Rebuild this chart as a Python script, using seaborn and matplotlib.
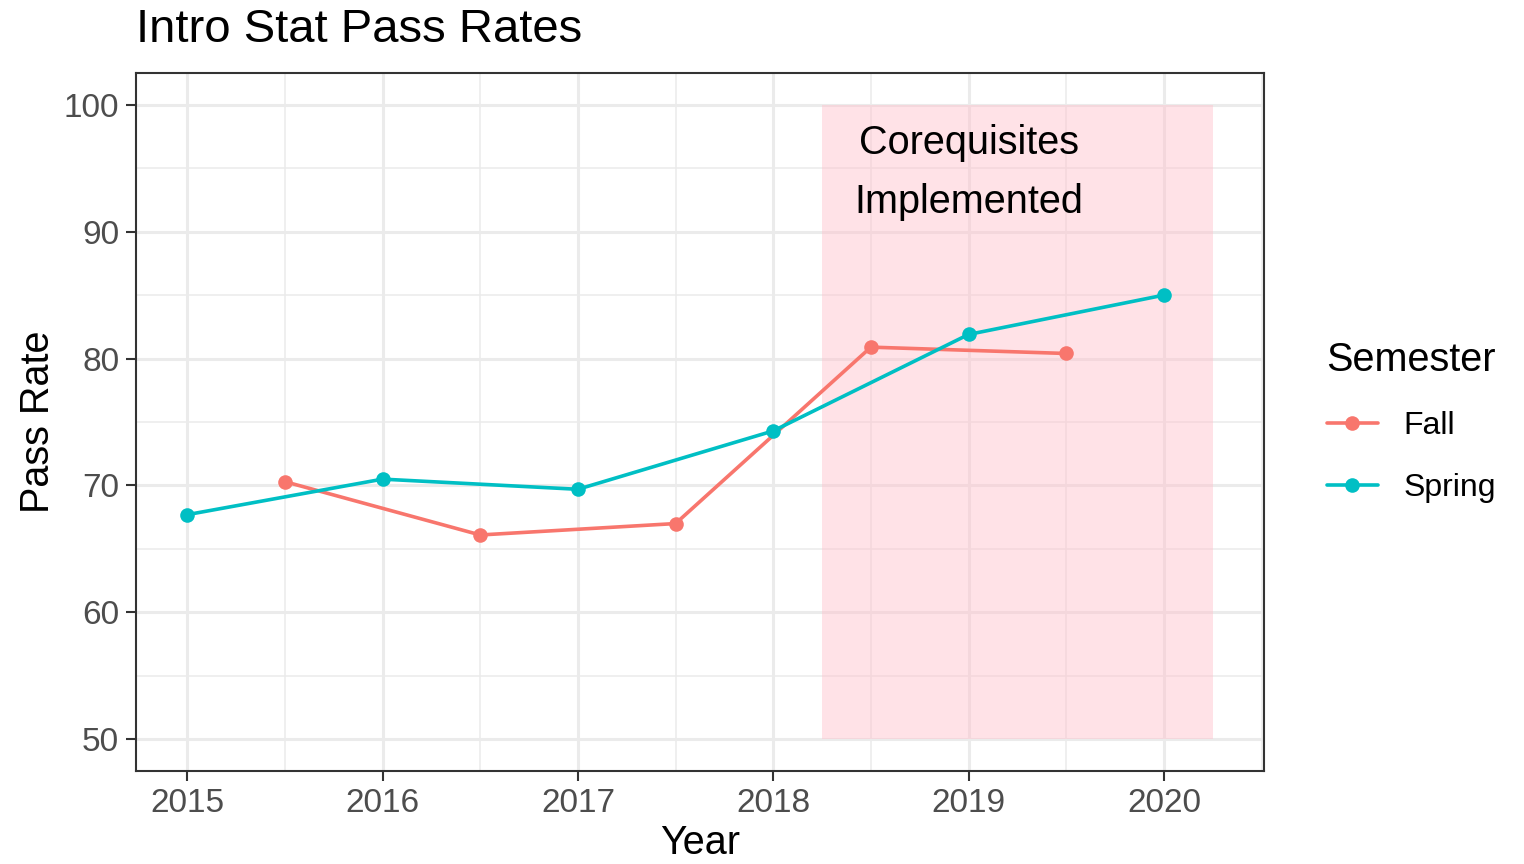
import matplotlib
matplotlib.use("Agg")
import matplotlib.pyplot as plt
import seaborn as sns
import pandas as pd
from matplotlib.ticker import MultipleLocator

# data
spring_years = [2015, 2016, 2017, 2018, 2019, 2020]
spring_rates = [67.7, 70.5, 69.7, 74.3, 81.9, 85.0]
fall_years = [2015.5, 2016.5, 2017.5, 2018.5, 2019.5]
fall_rates = [70.3, 66.1, 67.0, 80.9, 80.4]
shade_x = [2018.25, 2020.25]
shade_y = [50, 100]

df = pd.DataFrame({
    "Year": fall_years + spring_years,
    "Pass Rate": fall_rates + spring_rates,
    "Semester": ["Fall"] * len(fall_years) + ["Spring"] * len(spring_years),
})

sns.set_style("white")
plt.rcParams["font.family"] = ["Liberation Sans", "DejaVu Sans"]
plt.rcParams["text.color"] = "black"
plt.rcParams["axes.labelcolor"] = "black"

fig = plt.figure(figsize=(15.24, 8.64), dpi=100)
ax = fig.add_axes([0.0892, 0.1076, 0.7402, 0.8079])

ax.grid(True, which="major", color="#EBEBEB", lw=2.2, zorder=0)
ax.grid(True, which="minor", color="#EBEBEB", lw=1.1, zorder=0)
ax.set_axisbelow(True)

ax.fill_between(shade_x, shade_y[0], shade_y[1], color="pink", alpha=0.45,
                lw=0, zorder=1)

sns.lineplot(data=df, x="Year", y="Pass Rate", hue="Semester",
             palette={"Fall": "#F8766D", "Spring": "#00BFC4"},
             marker="o", markersize=10.5, markeredgewidth=0, lw=2.6,
             ax=ax, zorder=3)

ax.text(2019.0, 94.65, "Corequisites\nImplemented", ha="center", va="center",
        fontsize=28.5, linespacing=1.72, zorder=4)

ax.set_xlim(2014.7375, 2020.5125)
ax.set_ylim(47.5, 102.5)
ax.xaxis.set_major_locator(MultipleLocator(1))
ax.xaxis.set_minor_locator(MultipleLocator(0.5))
ax.yaxis.set_major_locator(MultipleLocator(10))
ax.yaxis.set_minor_locator(MultipleLocator(5))

ax.tick_params(axis="both", which="major", labelsize=24, labelcolor="#4D4D4D",
               length=7, width=1.5, color="#333333", direction="out",
               bottom=True, left=True, pad=5)
ax.tick_params(axis="both", which="minor", length=0)

for s in ax.spines.values():
    s.set_color("#333333")
    s.set_linewidth(1.5)

ax.set_xlabel("Year", fontsize=28.5, labelpad=4)
ax.set_ylabel("Pass Rate", fontsize=28.5, labelpad=5)
ax.set_title("Intro Stat Pass Rates", fontsize=34, loc="left", pad=22)

leg = ax.legend(title="Semester", loc="center left", bbox_to_anchor=(1.03, 0.5),
                frameon=False, fontsize=23, title_fontsize=28.5,
                handlelength=1.6, handletextpad=0.8, labelspacing=1.0)
leg._legend_box.align = "left"

fig.savefig("out.png", dpi=100)
